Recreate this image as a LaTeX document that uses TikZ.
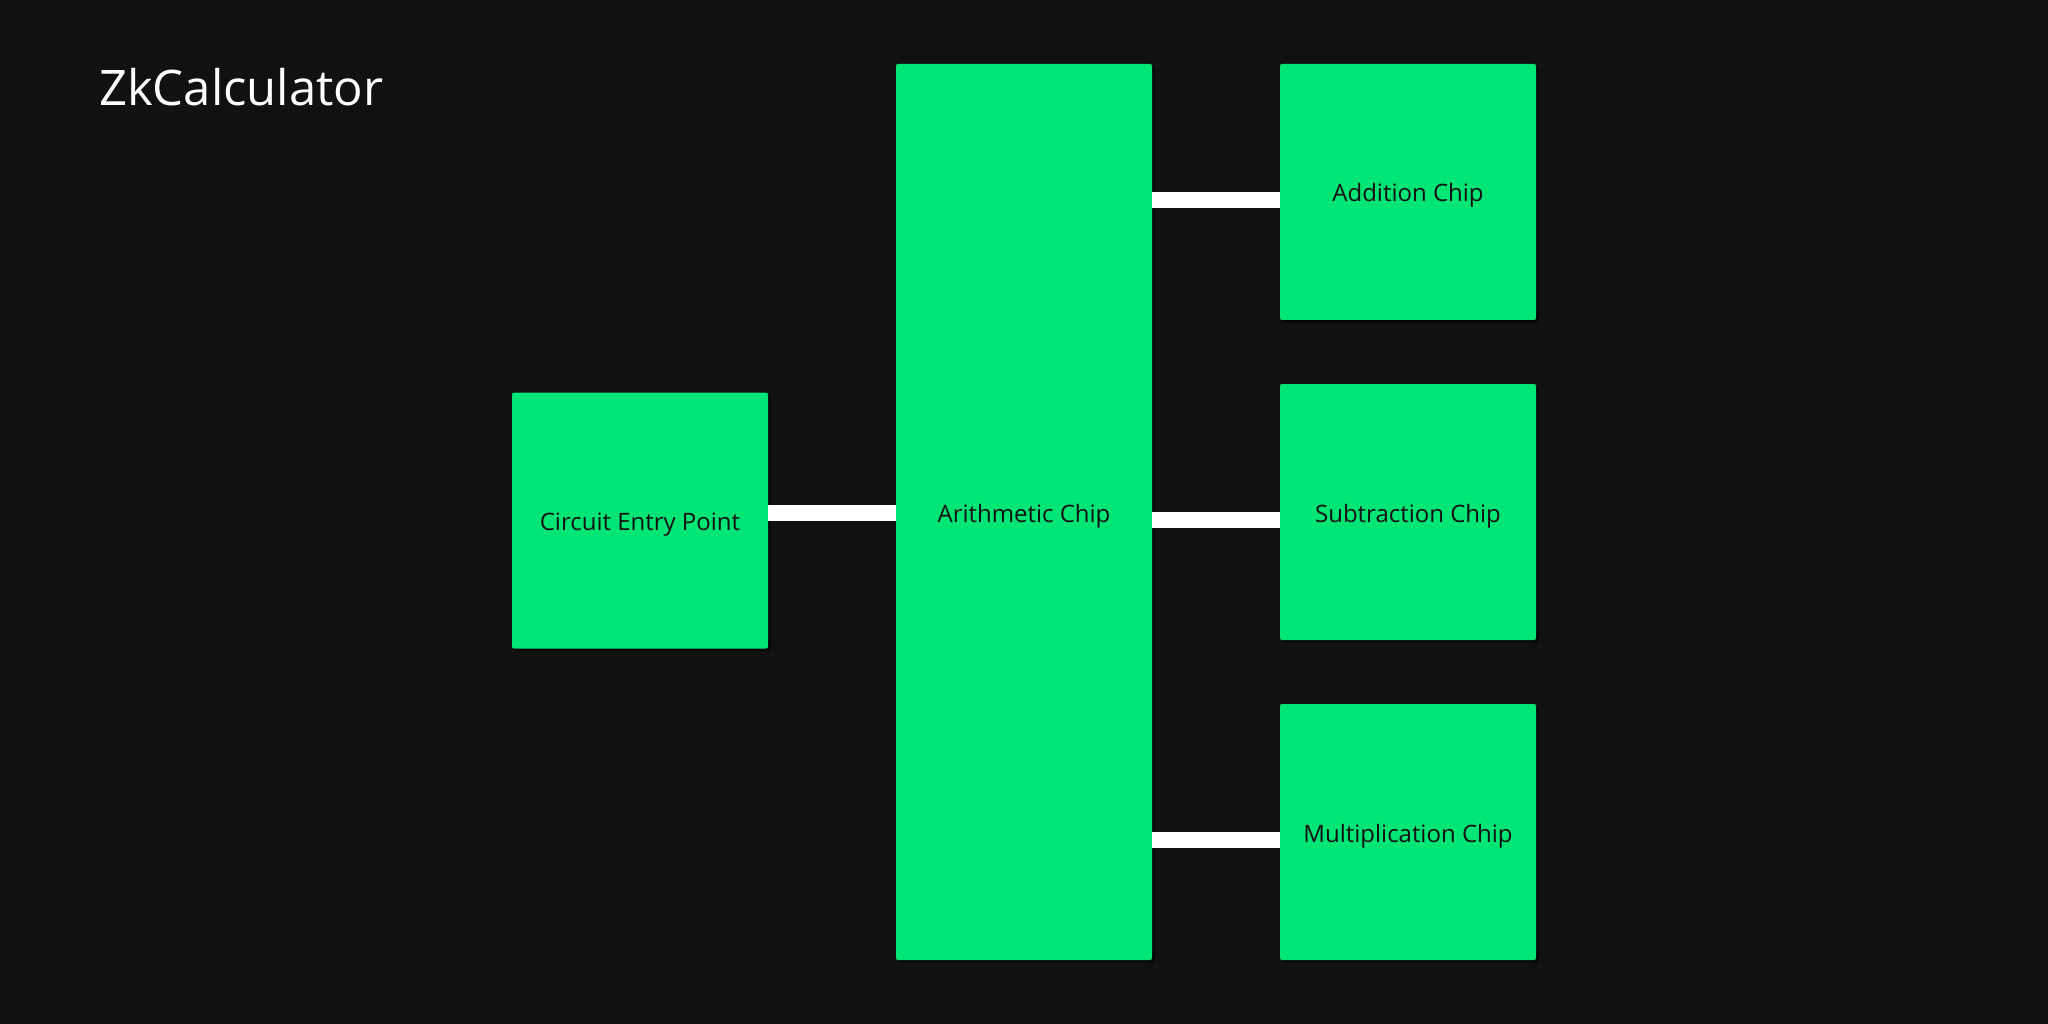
\documentclass[tikz,border=0pt]{standalone}
\usepackage{fontspec}
\setmainfont{Open Sans}
\definecolor{bg}{HTML}{111111}
\definecolor{chip}{HTML}{00E676}
\definecolor{ink}{HTML}{111111}
\begin{document}
\begin{tikzpicture}[x=1pt,y=1pt,
  chipbox/.style={fill=chip, rounded corners=2pt, inner sep=0pt, outer sep=0pt,
    text=ink, font=\fontsize{24}{28}\selectfont, text height=20pt, text depth=0pt,
    minimum width=256pt, minimum height=256pt,
    preaction={fill=black, fill opacity=0.35, transform canvas={shift={(3pt,-3pt)}}, rounded corners=2pt},
    preaction={fill=black, fill opacity=0.5, transform canvas={shift={(2pt,-2pt)}}, rounded corners=2pt}},
  bar/.style={draw=white, line width=16pt, line cap=butt}]
\fill[bg] (0,0) rectangle (2048,-1024);
\useasboundingbox (0,0) rectangle (2048,-1024);
\node[anchor=base west, text=white, font=\fontsize{49}{58}\selectfont, inner sep=0pt] (title) at (99,-106) {ZkCalculator};
\node[chipbox] (circ) at (640,-520.5) {Circuit Entry Point};
\node[chipbox, minimum height=896pt] (arith) at (1024,-512) {Arithmetic Chip};
\node[chipbox] (add) at (1408,-192) {Addition Chip};
\node[chipbox] (sub) at (1408,-512) {Subtraction Chip};
\node[chipbox] (mul) at (1408,-832) {Multiplication Chip};
\coordinate (cin) at ([yshift=7.5pt]circ.east);
\draw[bar] (cin) -- (arith.west |- cin);
\coordinate (ain) at ([yshift=-8pt]add.west);
\draw[bar] (arith.east |- ain) -- (ain);
\coordinate (sin) at ([yshift=-8pt]sub.west);
\draw[bar] (arith.east |- sin) -- (sin);
\coordinate (min) at ([yshift=-8pt]mul.west);
\draw[bar] (arith.east |- min) -- (min);
\end{tikzpicture}
\end{document}
